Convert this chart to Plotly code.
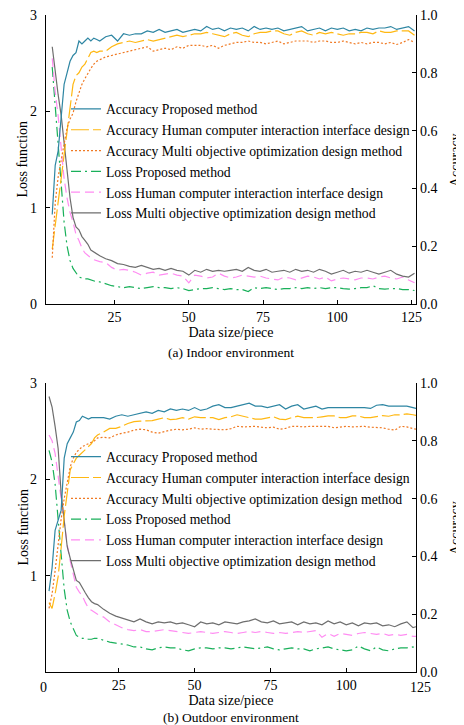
import plotly.graph_objects as go

# ---------------- data ----------------
x_top = list(range(4, 21)) + list(range(22, 127, 2))
x_bot = list(range(2, 19)) + list(range(20, 123, 2)) + [123]

series_names = [
    "Accuracy Proposed method",
    "Accuracy Human computer interaction interface design",
    "Accuracy Multi objective optimization design method",
    "Loss Proposed method",
    "Loss Human computer interaction interface design",
    "Loss Multi objective optimization design method",
]

# (a) Indoor environment
acc_prop_a = [0.31, 0.48, 0.53, 0.64, 0.76, 0.80, 0.84, 0.86, 0.87, 0.91, 0.90, 0.91, 0.92, 0.91, 0.92, 0.915, 0.91,
              0.925, 0.93, 0.91, 0.935, 0.93, 0.935, 0.935, 0.945, 0.94, 0.95, 0.94, 0.945, 0.95, 0.94, 0.945,
              0.95, 0.945, 0.96, 0.95, 0.955, 0.945, 0.955, 0.95, 0.955, 0.945, 0.96, 0.95, 0.955, 0.95, 0.955,
              0.945, 0.95, 0.955, 0.96, 0.945, 0.95, 0.955, 0.945, 0.955, 0.95, 0.955, 0.945, 0.95, 0.945, 0.955,
              0.95, 0.955, 0.955, 0.96, 0.95, 0.955, 0.96, 0.945]
acc_hci_a = [0.19, 0.27, 0.36, 0.44, 0.52, 0.60, 0.69, 0.76, 0.79, 0.80, 0.82, 0.83, 0.85, 0.87, 0.875, 0.87, 0.875,
             0.875, 0.89, 0.90, 0.905, 0.91, 0.905, 0.91, 0.915, 0.91, 0.915, 0.92, 0.925, 0.93, 0.925, 0.93,
             0.935, 0.935, 0.94, 0.935, 0.93, 0.925, 0.935, 0.94, 0.93, 0.925, 0.935, 0.94, 0.94, 0.945, 0.945,
             0.935, 0.93, 0.94, 0.945, 0.935, 0.93, 0.94, 0.935, 0.94, 0.935, 0.93, 0.935, 0.935, 0.94, 0.94,
             0.935, 0.945, 0.94, 0.94, 0.945, 0.945, 0.945, 0.93]
acc_moo_a = [0.16, 0.35, 0.44, 0.50, 0.56, 0.61, 0.64, 0.66, 0.70, 0.73, 0.76, 0.78, 0.80, 0.815, 0.83, 0.84, 0.845,
             0.855, 0.86, 0.865, 0.87, 0.875, 0.88, 0.885, 0.89, 0.875, 0.88, 0.885, 0.88, 0.89, 0.885, 0.895,
             0.895, 0.895, 0.89, 0.895, 0.885, 0.895, 0.90, 0.905, 0.905, 0.91, 0.905, 0.905, 0.90, 0.905, 0.91,
             0.90, 0.905, 0.91, 0.91, 0.91, 0.905, 0.91, 0.91, 0.905, 0.905, 0.91, 0.905, 0.90, 0.905, 0.90,
             0.905, 0.905, 0.90, 0.905, 0.898, 0.905, 0.915, 0.905]
loss_prop_a = [2.46, 2.07, 1.68, 1.30, 0.85, 0.60, 0.45, 0.37, 0.32, 0.28, 0.27, 0.26, 0.26, 0.25, 0.24, 0.23, 0.23,
               0.21, 0.19, 0.18, 0.17, 0.18, 0.17, 0.16, 0.17, 0.18, 0.17, 0.17, 0.16, 0.17, 0.16, 0.14,
               0.15, 0.16, 0.16, 0.17, 0.16, 0.15, 0.16, 0.15, 0.15, 0.13, 0.17, 0.16, 0.17, 0.16, 0.15,
               0.16, 0.16, 0.17, 0.16, 0.17, 0.16, 0.17, 0.16, 0.17, 0.17, 0.16, 0.155, 0.16, 0.17, 0.17,
               0.19, 0.16, 0.155, 0.16, 0.16, 0.15, 0.15, 0.14]
loss_hci_a = [2.55, 2.20, 1.95, 1.60, 1.30, 1.10, 0.95, 0.85, 0.72, 0.66, 0.58, 0.53, 0.50, 0.48, 0.46, 0.45, 0.44,
              0.43, 0.38, 0.35, 0.36, 0.35, 0.33, 0.30, 0.32, 0.33, 0.30, 0.31, 0.32, 0.30, 0.29, 0.22,
              0.30, 0.29, 0.27, 0.28, 0.32, 0.29, 0.27, 0.28, 0.30, 0.29, 0.28, 0.29, 0.27, 0.26, 0.25,
              0.28, 0.27, 0.25, 0.27, 0.29, 0.28, 0.26, 0.28, 0.24, 0.26, 0.27, 0.26, 0.25, 0.27, 0.27,
              0.26, 0.28, 0.29, 0.27, 0.26, 0.28, 0.25, 0.22]
loss_moo_a = [2.67, 2.41, 2.17, 1.96, 1.65, 1.37, 1.10, 0.90, 0.80, 0.77, 0.70, 0.66, 0.62, 0.56, 0.54, 0.52, 0.50,
              0.47, 0.45, 0.42, 0.41, 0.39, 0.38, 0.40, 0.38, 0.36, 0.37, 0.35, 0.37, 0.35, 0.34, 0.30,
              0.35, 0.33, 0.36, 0.34, 0.35, 0.34, 0.35, 0.36, 0.34, 0.38, 0.35, 0.34, 0.36, 0.33, 0.34,
              0.35, 0.33, 0.36, 0.34, 0.35, 0.33, 0.36, 0.34, 0.31, 0.33, 0.35, 0.32, 0.34, 0.33, 0.35,
              0.33, 0.31, 0.33, 0.35, 0.31, 0.29, 0.28, 0.32]

# (b) Outdoor environment
acc_prop_b = [0.28, 0.36, 0.49, 0.53, 0.56, 0.74, 0.79, 0.81, 0.83, 0.865, 0.87, 0.885, 0.88, 0.875, 0.88, 0.88, 0.88,
              0.88, 0.875, 0.885, 0.89, 0.885, 0.89, 0.895, 0.90, 0.895, 0.905, 0.90, 0.91, 0.905, 0.91, 0.905,
              0.915, 0.905, 0.91, 0.92, 0.925, 0.915, 0.915, 0.92, 0.925, 0.93, 0.92, 0.92, 0.915, 0.92, 0.925,
              0.91, 0.92, 0.925, 0.91, 0.915, 0.92, 0.91, 0.915, 0.915, 0.915, 0.915, 0.915, 0.915, 0.915, 0.912,
              0.923, 0.925, 0.92, 0.92, 0.92, 0.92, 0.915, 0.912]
acc_hci_b = [0.24, 0.22, 0.27, 0.33, 0.43, 0.54, 0.62, 0.70, 0.72, 0.74, 0.75, 0.76, 0.77, 0.78, 0.79, 0.81, 0.82,
             0.83, 0.843, 0.843, 0.85, 0.86, 0.866, 0.868, 0.87, 0.87, 0.875, 0.88, 0.873, 0.875, 0.88, 0.875,
             0.883, 0.88, 0.88, 0.88, 0.873, 0.88, 0.883, 0.89, 0.885, 0.88, 0.875, 0.875, 0.88, 0.883, 0.875,
             0.873, 0.88, 0.885, 0.88, 0.88, 0.88, 0.883, 0.886, 0.886, 0.88, 0.88, 0.886, 0.886, 0.88, 0.88,
             0.883, 0.887, 0.885, 0.89, 0.89, 0.893, 0.89, 0.888]
acc_moo_b = [0.22, 0.27, 0.35, 0.45, 0.53, 0.60, 0.66, 0.71, 0.74, 0.76, 0.77, 0.78, 0.785, 0.79, 0.795, 0.80, 0.81,
             0.812, 0.81, 0.82, 0.826, 0.83, 0.837, 0.84, 0.838, 0.83, 0.826, 0.832, 0.837, 0.84, 0.838, 0.84,
             0.845, 0.84, 0.842, 0.84, 0.84, 0.838, 0.842, 0.85, 0.848, 0.85, 0.85, 0.847, 0.845, 0.847, 0.84,
             0.843, 0.85, 0.85, 0.848, 0.85, 0.85, 0.848, 0.85, 0.845, 0.847, 0.85, 0.848, 0.85, 0.85, 0.847,
             0.845, 0.845, 0.84, 0.837, 0.85, 0.848, 0.842, 0.84]
loss_prop_b = [2.30, 2.18, 1.95, 1.62, 1.22, 0.86, 0.64, 0.52, 0.44, 0.38, 0.36, 0.35, 0.35, 0.34, 0.34, 0.35, 0.35,
               0.33, 0.31, 0.30, 0.29, 0.28, 0.26, 0.26, 0.24, 0.23, 0.25, 0.26, 0.25, 0.25, 0.23, 0.22,
               0.24, 0.25, 0.25, 0.24, 0.25, 0.25, 0.24, 0.25, 0.26, 0.25, 0.24, 0.25, 0.26, 0.24, 0.23,
               0.24, 0.25, 0.24, 0.24, 0.22, 0.24, 0.25, 0.26, 0.24, 0.23, 0.22, 0.23, 0.27, 0.24, 0.22,
               0.26, 0.23, 0.22, 0.24, 0.25, 0.25, 0.26, 0.25]
loss_hci_b = [2.46, 2.40, 2.27, 2.03, 1.82, 1.55, 1.32, 1.15, 1.00, 0.88, 0.83, 0.79, 0.72, 0.66, 0.64, 0.62, 0.60,
              0.57, 0.52, 0.49, 0.46, 0.44, 0.43, 0.44, 0.42, 0.42, 0.43, 0.44, 0.43, 0.42, 0.41, 0.40,
              0.41, 0.42, 0.41, 0.40, 0.41, 0.42, 0.41, 0.40, 0.41, 0.42, 0.41, 0.42, 0.41, 0.40, 0.41,
              0.40, 0.41, 0.42, 0.41, 0.42, 0.43, 0.36, 0.40, 0.37, 0.40, 0.39, 0.38, 0.40, 0.41, 0.40,
              0.39, 0.40, 0.38, 0.39, 0.38, 0.39, 0.37, 0.37]
loss_moo_b = [2.86, 2.75, 2.55, 2.32, 1.85, 1.55, 1.30, 1.18, 1.05, 0.95, 0.93, 0.87, 0.82, 0.77, 0.73, 0.71, 0.70,
              0.65, 0.61, 0.58, 0.56, 0.54, 0.52, 0.55, 0.52, 0.50, 0.52, 0.51, 0.52, 0.50, 0.51, 0.49,
              0.47, 0.52, 0.50, 0.51, 0.49, 0.52, 0.51, 0.50, 0.52, 0.53, 0.55, 0.52, 0.51, 0.53, 0.50,
              0.51, 0.52, 0.49, 0.52, 0.50, 0.51, 0.49, 0.53, 0.50, 0.52, 0.49, 0.51, 0.48, 0.51, 0.50,
              0.51, 0.48, 0.49, 0.47, 0.50, 0.52, 0.46, 0.47]

loss_ticks_top = [0, 1, 2, 3]
loss_ticks_bot = [1, 2, 3]
acc_ticks = [0.0, 0.2, 0.4, 0.6, 0.8, 1.0]
x_ticks_top = [25, 50, 75, 100, 125]
x_ticks_bot = [25, 50, 75, 100]
captions = ["(a) Indoor environment", "(b) Outdoor environment"]

# ---------------- styles ----------------
FONT = "Liberation Serif, Times New Roman, serif"
colors = ["#2E86A3", "#FFB812", "#F07A24", "#19B05A", "#FF8CF2", "#6E6E6E"]
dashes = ["solid", "18px,4px", "2px,2px", "10px,4px,2px,4px", "9px,5px", "solid"]

fig = go.Figure()

panels = [
    (x_top, [acc_prop_a, acc_hci_a, acc_moo_a, loss_prop_a, loss_hci_a, loss_moo_a], "x", "y", "y2", "legend"),
    (x_bot, [acc_prop_b, acc_hci_b, acc_moo_b, loss_prop_b, loss_hci_b, loss_moo_b], "x2", "y3", "y4", "legend2"),
]
for xs, ys_list, xa, ya_loss, ya_acc, leg in panels:
    for i, (name, ys) in enumerate(zip(series_names, ys_list)):
        fig.add_trace(go.Scatter(
            x=xs, y=ys, mode="lines", name=name,
            xaxis=xa, yaxis=(ya_acc if i < 3 else ya_loss),
            line=dict(color=colors[i], width=1.2, dash=dashes[i]),
            legend=leg,
        ))

axis_common = dict(showline=True, linecolor="black", linewidth=1.3, ticks="inside",
                   ticklen=4, tickcolor="black", showgrid=False, zeroline=False, automargin=False,
                   ticklabeloverflow="allow",
                   tickfont=dict(family=FONT, size=14, color="black"))
TFONT = dict(family=FONT, size=14, color="black")
NB3 = "\u00a0\u00a0\u00a0"

top_dom = [0.5601, 1.0]
bot_dom = [0.0, 0.4399]

# the page body adds an 8px offset, so the figure is 8px smaller than the window
fig.update_layout(
    template="none",
    width=456, height=717,
    margin=dict(l=38, r=48, t=7, b=53),
    paper_bgcolor="white", plot_bgcolor="white",
    font=dict(family=FONT, size=13, color="black"),
    xaxis=dict(axis_common, domain=[0, 1], anchor="y", range=[1.9, 126.5], tickvals=x_ticks_top,
               title=dict(text="Data size/piece", font=TFONT, standoff=3)),
    yaxis=dict(axis_common, domain=top_dom, anchor="x", range=[0, 3], tickvals=loss_ticks_top,
               ticklabelstandoff=5),
    yaxis2=dict(axis_common, overlaying="y", side="right", anchor="x", range=[0, 1], tickvals=acc_ticks,
                tickformat=".1f", tickprefix=NB3),
    xaxis2=dict(axis_common, domain=[0, 1], anchor="y3", range=[1, 123], tickvals=x_ticks_bot,
                title=dict(text="Data size/piece", font=TFONT, standoff=3)),
    yaxis3=dict(axis_common, domain=bot_dom, anchor="x2", range=[0, 3], tickvals=loss_ticks_bot,
                ticklabelstandoff=5),
    yaxis4=dict(axis_common, overlaying="y3", side="right", anchor="x2", range=[0, 1], tickvals=acc_ticks,
                tickformat=".1f", tickprefix=NB3),
    legend=dict(x=0.054, y=0.8805, xanchor="left", yanchor="top", bgcolor="rgba(0,0,0,0)",
                font=dict(family=FONT, size=13.7, color="black"), tracegroupgap=0, borderwidth=0),
    legend2=dict(x=0.054, y=0.3512, xanchor="left", yanchor="top", bgcolor="rgba(0,0,0,0)",
                 font=dict(family=FONT, size=13.7, color="black"), tracegroupgap=0, borderwidth=0),
    showlegend=True,
)

acc_title_x = (447.5 - 38) / 370
loss_title_x = (15 - 38) / 370
annots = [
    dict(text="0", x=-0.008, y=-0.052, xref="x2 domain", yref="y3 domain", showarrow=False,
         font=TFONT, xanchor="center", yanchor="middle"),
    dict(text="125", x=1.0135, y=-0.052, xref="x2 domain", yref="y3 domain", showarrow=False,
         font=TFONT, xanchor="center", yanchor="middle"),
    dict(text="Loss function", x=loss_title_x, y=sum(top_dom) / 2, xref="paper", yref="paper",
         showarrow=False, textangle=-90, font=TFONT, xanchor="center", yanchor="middle"),
    dict(text="Loss function", x=loss_title_x, y=sum(bot_dom) / 2, xref="paper", yref="paper",
         showarrow=False, textangle=-90, font=TFONT, xanchor="center", yanchor="middle"),
    dict(text="Accuracy", x=acc_title_x, y=sum(top_dom) / 2, xref="paper", yref="paper", showarrow=False,
         textangle=-90, font=TFONT, xanchor="center", yanchor="middle"),
    dict(text="Accuracy", x=acc_title_x, y=sum(bot_dom) / 2, xref="paper", yref="paper", showarrow=False,
         textangle=-90, font=TFONT, xanchor="center", yanchor="middle"),
    dict(text=captions[0], x=0.5, y=(672 - 352) / 657, xref="paper", yref="paper", showarrow=False,
         font=dict(family=FONT, size=13.5, color="black"), xanchor="center", yanchor="middle"),
    dict(text=captions[1], x=0.5, y=(672 - 717) / 657, xref="paper", yref="paper", showarrow=False,
         font=dict(family=FONT, size=13.5, color="black"), xanchor="center", yanchor="middle"),
]
fig.update_layout(annotations=annots)

fig.write_html("out.html")
